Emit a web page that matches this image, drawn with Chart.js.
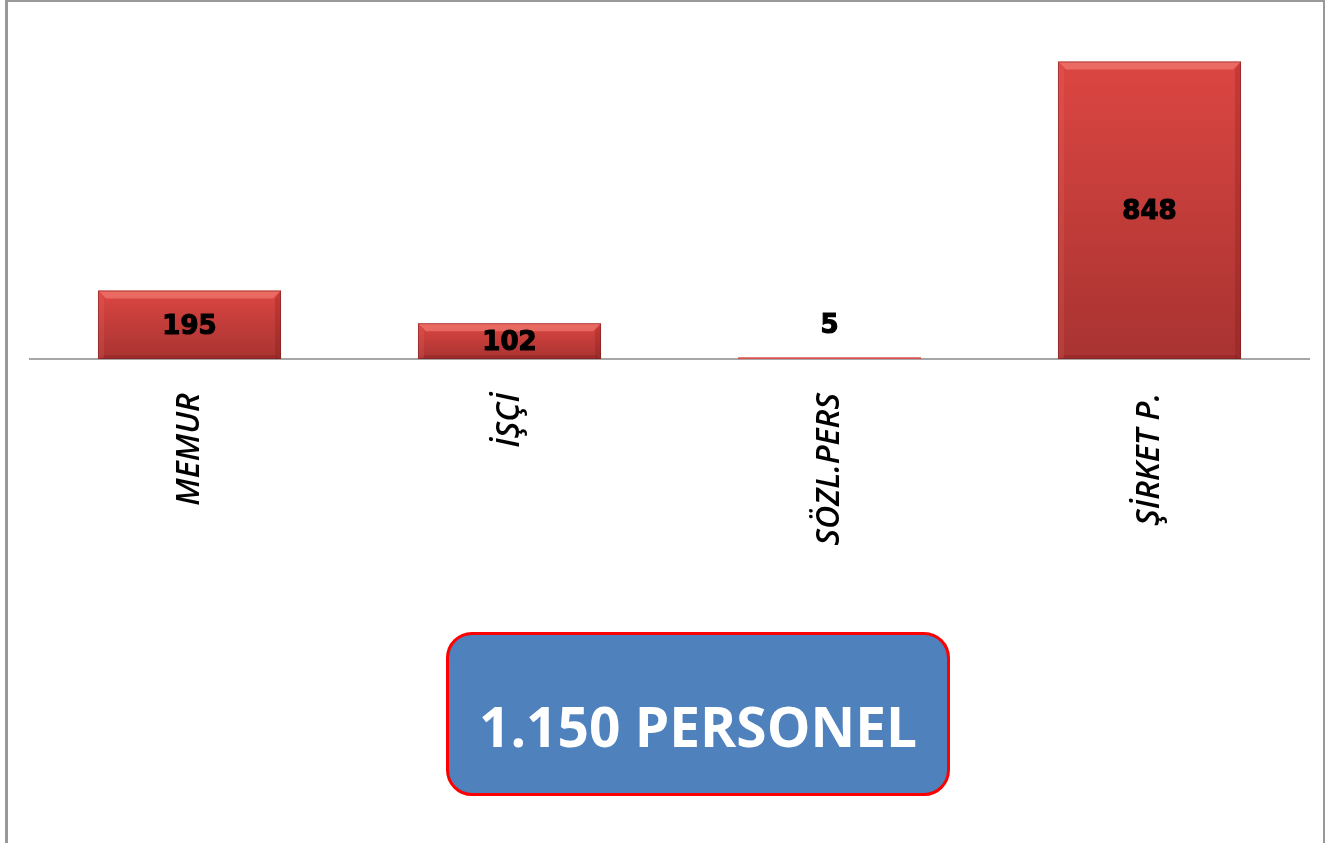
<!DOCTYPE html>
<html>
<head>
<meta charset="utf-8">
<script src="https://cdn.jsdelivr.net/npm/chart.js@4.4.1/dist/chart.umd.min.js"></script>
<style>
  html, body { margin: 0; padding: 0; background: #fff; overflow: hidden; }
  #wrap { position: relative; width: 1333px; height: 843px; }
  #frame { position: absolute; left: 5px; top: 0px; width: 1320px; height: 870px; border: 2px solid #999; border-left-width: 3px; box-sizing: border-box; }
  #personelChart { position: absolute; left: 0; top: 0; }
  #total {
    position: absolute; left: 446px; top: 632px; width: 504px; height: 164px;
    box-sizing: border-box; border: 3px solid #ff0000; border-radius: 26px;
    background: #4f81bd; color: #fff;
    font-family: "Open Sans", sans-serif; font-weight: 700; font-size: 55px;
    text-align: center; padding-top: 22px; line-height: 138px;
  }
</style>
</head>
<body>
<div id="wrap">
  <div id="frame"></div>
  <canvas id="personelChart" width="1333" height="843"></canvas>
  <div id="total"></div>
</div>
<script>
const categories = ['MEMUR', 'İŞÇİ', 'SÖZL.PERS', 'ŞİRKET P.'];
const personelCounts = [195, 102, 5, 848];
const totalLabel = '1.150 PERSONEL';

document.getElementById('total').textContent = totalLabel;

// value labels inside the bars (or above them when the bar is too short)
const valueLabels = {
    id: 'valueLabels',
    afterDatasetsDraw(chart) {
        const ctx = chart.ctx;
        const meta = chart.getDatasetMeta(0);
        ctx.save();
        ctx.font = 'bold 26px "DejaVu Sans", sans-serif';
        ctx.fillStyle = '#000';
        ctx.strokeStyle = '#000';
        ctx.lineWidth = 1.2;
        ctx.textAlign = 'center';
        ctx.textBaseline = 'middle';
        meta.data.forEach(function (bar, i) {
            const h = bar.base - bar.y;
            let y = (bar.y + bar.base) / 2 + 2;
            if (h < 20) {
                y = bar.y - 31;
            }
            ctx.fillText(String(personelCounts[i]), bar.x, y);
            ctx.strokeText(String(personelCounts[i]), bar.x, y);
        });
        ctx.restore();
    }
};

// light bevel on the bars' edges
const barBevel = {
    id: 'barBevel',
    afterDatasetsDraw(chart) {
        const ctx = chart.ctx;
        const meta = chart.getDatasetMeta(0);
        ctx.save();
        meta.data.forEach(function (bar) {
            const h = bar.base - bar.y;
            if (h < 12) return;
            const w = bar.width;
            const l = bar.x - w / 2, r = bar.x + w / 2;
            ctx.fillStyle = 'rgba(255,150,140,0.45)';
            ctx.beginPath();
            ctx.moveTo(l, bar.y); ctx.lineTo(r, bar.y);
            ctx.lineTo(r - 8, bar.y + 8); ctx.lineTo(l + 8, bar.y + 8);
            ctx.closePath(); ctx.fill();
            ctx.fillStyle = 'rgba(110,20,20,0.22)';
            ctx.beginPath();
            ctx.moveTo(r, bar.y); ctx.lineTo(r, bar.base);
            ctx.lineTo(r - 6, bar.base); ctx.lineTo(r - 6, bar.y + 8);
            ctx.closePath(); ctx.fill();
            ctx.beginPath();
            ctx.moveTo(l, bar.base); ctx.lineTo(r, bar.base);
            ctx.lineTo(r - 6, bar.base - 4); ctx.lineTo(l + 6, bar.base - 4);
            ctx.closePath(); ctx.fill();
            ctx.fillStyle = 'rgba(255,130,120,0.15)';
            ctx.beginPath();
            ctx.moveTo(l, bar.y); ctx.lineTo(l, bar.base);
            ctx.lineTo(l + 6, bar.base); ctx.lineTo(l + 6, bar.y + 8);
            ctx.closePath(); ctx.fill();
            ctx.strokeStyle = 'rgba(120,30,30,0.5)';
            ctx.lineWidth = 1;
            ctx.strokeRect(l + 0.5, bar.y + 0.5, w - 1, h - 1);
        });
        ctx.restore();
    }
};

const ctx = document.getElementById('personelChart').getContext('2d');
const personelChart = new Chart(ctx, {
    type: 'bar',
    data: {
        labels: categories,
        datasets: [{
            data: personelCounts,
            backgroundColor: function (context) {
                const chart = context.chart;
                if (!chart.chartArea || !chart.scales.y) return '#c93c38';
                const yScale = chart.scales.y;
                const top = yScale.getPixelForValue(context.raw);
                const bottom = yScale.getPixelForValue(0);
                if (bottom - top < 2) return '#d9534f';
                const g = chart.ctx.createLinearGradient(0, top, 0, bottom);
                g.addColorStop(0, '#dc4642');
                g.addColorStop(1, '#a83331');
                return g;
            },
            borderWidth: 0,
            barPercentage: 0.572,
            categoryPercentage: 1
        }]
    },
    options: {
        responsive: false,
        animation: false,
        layout: { padding: { left: 29.5, right: 23.5, top: 44, bottom: 0 } },
        plugins: {
            legend: { display: false },
            tooltip: { enabled: false }
        },
        scales: {
            x: {
                grid: { display: false, drawTicks: false },
                border: { display: true, color: '#a6a6a6', width: 2 },
                ticks: {
                    minRotation: 90,
                    maxRotation: 90,
                    padding: 34,
                    color: '#000',
                    font: { family: '"Open Sans", sans-serif', size: 32, style: 'italic', weight: '600' }
                },
                afterFit: function (scale) { scale.height = 843 - 359; }
            },
            y: {
                display: false,
                min: 0,
                max: 898
            }
        }
    },
    plugins: [barBevel, valueLabels]
});
</script>
</body>
</html>
